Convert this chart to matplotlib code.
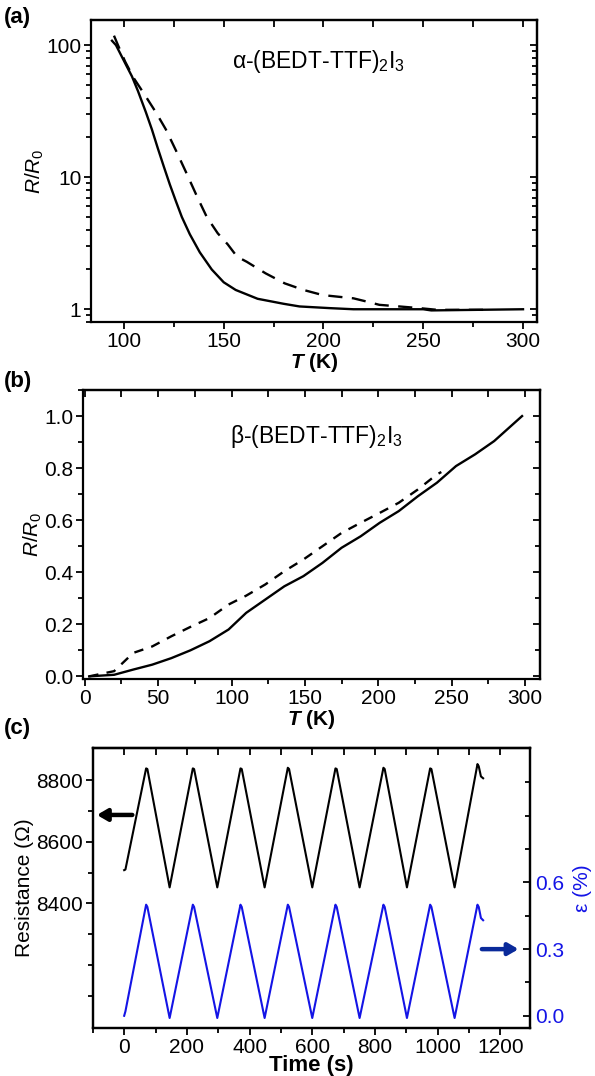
import matplotlib
matplotlib.use("Agg")
import matplotlib.pyplot as plt
from matplotlib.ticker import MultipleLocator, FixedLocator, NullFormatter, LogLocator, FixedFormatter

plt.rcParams['font.family'] = ['Liberation Sans', 'DejaVu Sans']
plt.rcParams['mathtext.fontset'] = 'custom'
plt.rcParams['mathtext.rm'] = 'Liberation Sans'
plt.rcParams['mathtext.it'] = 'Liberation Sans:italic'
plt.rcParams['mathtext.bf'] = 'Liberation Sans:bold:italic'

# ---------------- data ----------------
# (a) alpha-(BEDT-TTF)2I3, R/R0 vs T (log)
Ta_solid = [94, 96, 100.6, 104, 107, 111, 114, 117, 120, 123, 126, 129, 133, 138, 144, 150, 156, 167, 180, 188, 203, 215, 250, 254, 300]
Ra_solid = [108, 100, 73, 58, 45, 31, 23, 16.5, 12, 8.8, 6.6, 5.0, 3.7, 2.7, 2.0, 1.6, 1.4, 1.2, 1.1, 1.05, 1.02, 1.0, 1.0, 0.98, 1.0]
Ta_dash = [95, 97, 100.6, 105, 110, 116, 121, 126, 131, 136.7, 141.5, 147, 152, 156.7, 161.5, 171, 180.6, 190, 199.6, 215, 222, 228, 238, 248, 257, 283]
Ra_dash = [118, 100, 75, 56, 43, 31, 23, 16, 11, 7.1, 5.0, 3.76, 3.1, 2.5, 2.29, 1.87, 1.57, 1.40, 1.28, 1.21, 1.14, 1.08, 1.05, 1.02, 0.99, 0.99]

# (b) beta-(BEDT-TTF)2I3, R/R0 vs T (linear)
Tb_solid = [3, 20, 33, 46, 59, 72, 85, 98, 110, 123, 136, 149, 162, 175, 188, 201, 214, 227, 240, 253, 266, 279, 298]
Rb_solid = [0.0, 0.006, 0.026, 0.045, 0.07, 0.10, 0.135, 0.18, 0.244, 0.295, 0.346, 0.385, 0.436, 0.494, 0.538, 0.59, 0.635, 0.692, 0.744, 0.808, 0.853, 0.904, 1.0]
Tb_dash = [3, 20, 33, 46, 59, 72, 85, 98, 110, 123, 136, 149, 162, 175, 188, 201, 214, 227, 240, 243]
Rb_dash = [0.0, 0.02, 0.09, 0.115, 0.154, 0.19, 0.224, 0.276, 0.31, 0.353, 0.404, 0.449, 0.50, 0.551, 0.59, 0.628, 0.667, 0.718, 0.776, 0.785]

# (c) cyclic strain: resistance and strain vs time
t_c = [0, 4, 70, 74, 145, 219, 223, 297, 371, 375, 448, 522, 526, 600, 674, 678, 751, 827, 831, 902, 976, 980, 1054, 1127, 1131, 1138, 1145]
R_c = [8508, 8510, 8838, 8836, 8452, 8838, 8836, 8452, 8838, 8836, 8452, 8840, 8836, 8452, 8838, 8836, 8452, 8840, 8836, 8452, 8838, 8836, 8452, 8852, 8845, 8812, 8806]
eps_c = [0.0, 0.02, 0.50, 0.49, -0.01, 0.50, 0.49, -0.01, 0.50, 0.49, -0.01, 0.50, 0.49, -0.01, 0.50, 0.49, -0.01, 0.50, 0.49, -0.01, 0.50, 0.49, -0.01, 0.50, 0.49, 0.44, 0.43]

label_a = r'α-(BEDT-TTF)$_{\mathrm{2}}$I$_{\mathrm{3}}$'
label_b = r'β-(BEDT-TTF)$_{\mathrm{2}}$I$_{\mathrm{3}}$'

FS = 15
BLUE = '#1414e6'

fig = plt.figure(figsize=(5.95, 10.76), dpi=100)


def style_axes(ax, right_ticks=True):
    for s in ax.spines.values():
        s.set_linewidth(1.6)
    ax.tick_params(which='both', labelsize=FS, width=1.3, pad=2)
    ax.tick_params(which='major', length=5)
    ax.tick_params(which='minor', length=3.5)
    ax.tick_params(axis='x', which='both', direction='out', top=False)
    ax.tick_params(axis='y', which='both', direction='out', right=False)
    sec = ax.secondary_xaxis('top')
    sec.tick_params(which='both', direction='in', width=1.3, labeltop=False)
    sec.tick_params(which='major', length=5)
    sec.tick_params(which='minor', length=5)
    sec.set_xticks(ax.get_xticks())
    sec.xaxis.set_minor_locator(ax.xaxis.get_minor_locator())
    sec.set_xticklabels([])
    sec.spines['top'].set_linewidth(1.6)
    if right_ticks:
        sy = ax.secondary_yaxis('right')
        sy.tick_params(which='both', direction='in', width=1.3)
        sy.tick_params(which='major', length=5)
        sy.tick_params(which='minor', length=3.5)
        sy.yaxis.set_major_locator(ax.yaxis.get_major_locator())
        sy.yaxis.set_minor_locator(ax.yaxis.get_minor_locator())
        sy.yaxis.set_major_formatter(NullFormatter())
        sy.yaxis.set_minor_formatter(NullFormatter())
        sy.spines['right'].set_linewidth(1.6)


# ---------------- (a) ----------------
ax1 = fig.add_axes([0.153, 0.7007, 0.7495, 0.2807])
ax1.plot(Ta_solid, Ra_solid, color='black', lw=1.7)
ax1.plot(Ta_dash, Ra_dash, color='black', lw=1.7, dashes=(6, 4))
ax1.set_yscale('log')
ax1.set_xlim(83.5, 307)
ax1.set_ylim(0.8, 155)
ax1.set_xticks([100, 150, 200, 250, 300])
ax1.xaxis.set_minor_locator(MultipleLocator(25))
ax1.yaxis.set_major_locator(FixedLocator([1, 10, 100]))
ax1.yaxis.set_major_formatter(FixedFormatter(['1', '10', '100']))
ax1.yaxis.set_minor_locator(LogLocator(base=10, subs=range(2, 10)))
ax1.yaxis.set_minor_formatter(NullFormatter())
style_axes(ax1)
ax1.text(0.511, 0.862, label_a, transform=ax1.transAxes, ha='center', va='center', fontsize=FS + 1.5)
ax1.set_xlabel(r'$\mathbf{T}$ (K)', fontsize=FS, fontweight='bold', labelpad=0)
ax1.set_ylabel(r'$\mathit{R}$/$\mathit{R}_{\mathrm{0}}$', fontsize=FS, labelpad=0)
fig.text(0.006, 0.984, '(a)', fontsize=FS + 1, fontweight='bold', va='center')

# ---------------- (b) ----------------
ax2 = fig.add_axes([0.140, 0.369, 0.767, 0.2685])
ax2.plot(Tb_solid, Rb_solid, color='black', lw=1.7)
ax2.plot(Tb_dash, Rb_dash, color='black', lw=1.7, dashes=(4, 3.5))
ax2.set_xlim(-1, 310)
ax2.set_ylim(-0.01, 1.10)
ax2.set_xticks([0, 50, 100, 150, 200, 250, 300])
ax2.xaxis.set_minor_locator(MultipleLocator(25))
ax2.set_yticks([0.0, 0.2, 0.4, 0.6, 0.8, 1.0])
ax2.set_yticklabels(['0.0', '0.2', '0.4', '0.6', '0.8', '1.0'])
ax2.yaxis.set_minor_locator(MultipleLocator(0.1))
style_axes(ax2)
ax2.text(0.51, 0.84, label_b, transform=ax2.transAxes, ha='center', va='center', fontsize=FS + 1.5)
ax2.set_xlabel(r'$\mathbf{T}$ (K)', fontsize=FS, fontweight='bold', labelpad=0)
ax2.set_ylabel(r'$\mathit{R}$/$\mathit{R}_{\mathrm{0}}$', fontsize=FS, labelpad=0)
fig.text(0.006, 0.645, '(b)', fontsize=FS + 1, fontweight='bold', va='center')

# ---------------- (c) ----------------
ax3 = fig.add_axes([0.156, 0.0446, 0.735, 0.2602])
ax3.plot(t_c, R_c, color='black', lw=1.5)
ax3.set_xlim(-100, 1295)
ax3.set_ylim(7996, 8904)
ax3.set_xticks([0, 200, 400, 600, 800, 1000, 1200])
ax3.xaxis.set_minor_locator(MultipleLocator(100))
ax3.set_yticks([8400, 8600, 8800])
ax3.yaxis.set_minor_locator(FixedLocator([8100, 8200, 8300, 8500, 8700]))
for s in ax3.spines.values():
    s.set_linewidth(1.6)
ax3.tick_params(which='both', labelsize=FS, width=1.3, pad=2)
ax3.tick_params(which='major', length=5)
ax3.tick_params(which='minor', length=3.5)
ax3.tick_params(axis='x', which='both', direction='out')
ax3.tick_params(axis='y', which='both', direction='out')
sec3 = ax3.secondary_xaxis('top')
sec3.set_xticks([0, 200, 400, 600, 800, 1000, 1200])
sec3.xaxis.set_minor_locator(MultipleLocator(100))
sec3.tick_params(which='both', direction='in', width=1.3, labeltop=False, length=5)
sec3.spines['top'].set_linewidth(1.6)
ax3.set_xlabel('Time (s)', fontsize=FS + 1, fontweight='bold', labelpad=-1)
ax3.set_ylabel('Resistance (Ω)', fontsize=FS, labelpad=2)
ax3.annotate('', xy=(-87, 8687), xytext=(26, 8687),
             arrowprops=dict(arrowstyle='-|>,head_length=0.6,head_width=0.35', color='black', lw=3.2, shrinkA=0, shrinkB=0))

ax3b = ax3.twinx()
ax3b.plot(t_c, eps_c, color=BLUE, lw=1.5)
ax3b.set_ylim(-0.055, 1.205)
ax3b.set_yticks([0.0, 0.3, 0.6])
ax3b.set_yticklabels(['0.0', '0.3', '0.6'])
ax3b.yaxis.set_minor_locator(FixedLocator([0.15, 0.45, 0.75, 0.9, 1.05]))
ax3b.tick_params(axis='y', which='both', direction='in', colors='black', labelcolor=BLUE, labelsize=FS, width=1.3)
ax3b.tick_params(axis='y', which='major', length=5)
ax3b.tick_params(axis='y', which='minor', length=3.5)
for s in ax3b.spines.values():
    s.set_linewidth(1.6)
ax3b.set_ylabel('ε (%)', color=BLUE, fontsize=FS, labelpad=6)
ax3b.annotate('', xy=(1258, 0.3), xytext=(1141, 0.3),
              arrowprops=dict(arrowstyle='-|>,head_length=0.6,head_width=0.35', color='#0a2a9a', lw=3.2, shrinkA=0, shrinkB=0))
fig.text(0.006, 0.323, '(c)', fontsize=FS + 1, fontweight='bold', va='center')

fig.savefig('out.png', dpi=100)
